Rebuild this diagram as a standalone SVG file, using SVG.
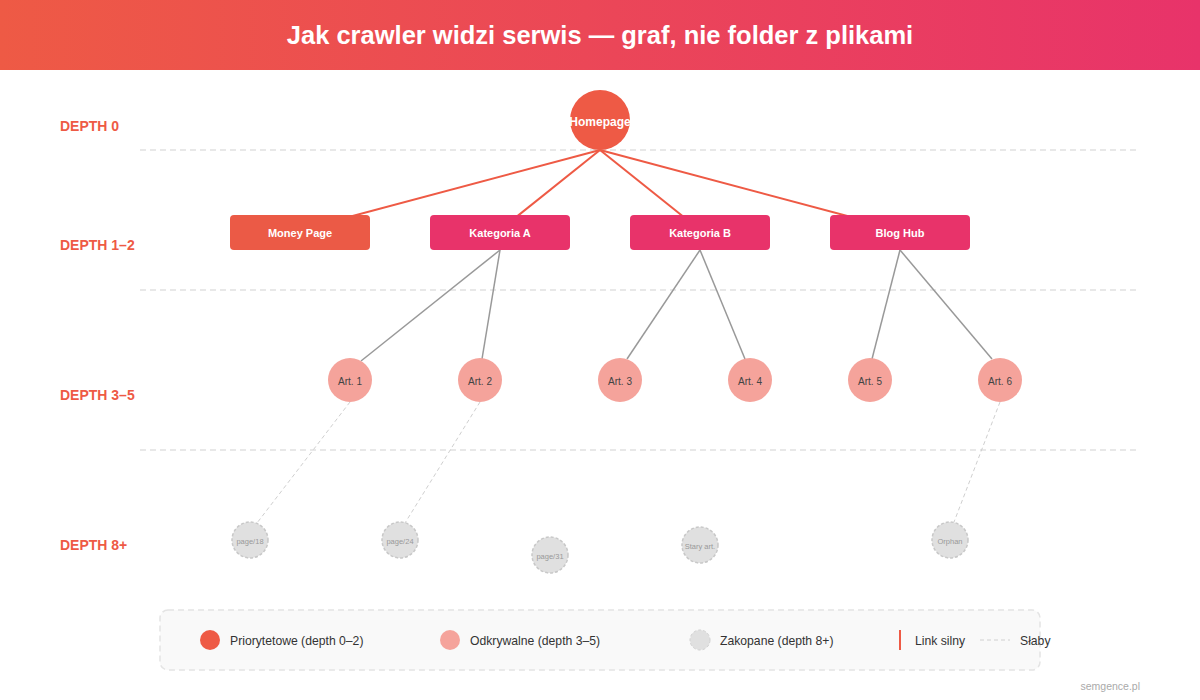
<svg xmlns="http://www.w3.org/2000/svg" width="1200" height="700" viewBox="0 0 1200 700">
  <defs>
    <linearGradient id="hdr" x1="0" y1="0" x2="1" y2="0">
      <stop offset="0" stop-color="#EE5A45"/>
      <stop offset="1" stop-color="#E8336A"/>
    </linearGradient>
    <style>
      .title{font-family:"Liberation Sans",Arial,sans-serif;font-size:25.5px;font-weight:bold;fill:#fff}
      .depth{font-family:"Liberation Sans",Arial,sans-serif;font-size:14px;font-weight:bold;fill:#EE5A45}
      .sep{stroke:#e8e8e8;stroke-width:2;stroke-dasharray:6 4;fill:none}
      .strong{stroke:#EE5A45;stroke-width:2;fill:none}
      .mid{stroke:#999;stroke-width:1.5;fill:none}
      .weak{stroke:#cfcfcf;stroke-width:1;stroke-dasharray:4 3;fill:none}
      .hub{fill:#E8336A}
      .money{fill:#EB5A46}
      .lbl{font-family:"Liberation Sans",Arial,sans-serif;font-weight:bold;fill:#fff;text-anchor:middle}
      .art{fill:#F5A39B}
      .artt{font-family:"Liberation Sans",Arial,sans-serif;font-size:10px;fill:#444;text-anchor:middle}
      .buried{fill:#e0e0e0;stroke:#c8c8c8;stroke-width:1.5;stroke-dasharray:3 2}
      .buriedt{font-family:"Liberation Sans",Arial,sans-serif;font-size:7.5px;fill:#999;text-anchor:middle}
      .leg{font-family:"Liberation Sans",Arial,sans-serif;font-size:12.2px;fill:#333}
    </style>
  </defs>

  <rect x="0" y="0" width="1200" height="70" fill="url(#hdr)"/>
  <text class="title" x="600" y="44" text-anchor="middle">Jak crawler widzi serwis — graf, nie folder z plikami</text>

  <g id="depth-labels">
    <text class="depth" x="60" y="131">DEPTH 0</text>
    <text class="depth" x="60" y="250">DEPTH 1–2</text>
    <text class="depth" x="60" y="400">DEPTH 3–5</text>
    <text class="depth" x="60" y="550">DEPTH 8+</text>
  </g>

  <g id="separators">
    <line class="sep" x1="140" y1="150" x2="1136" y2="150"/>
    <line class="sep" x1="140" y1="290" x2="1136" y2="290"/>
    <line class="sep" x1="140" y1="450" x2="1136" y2="450"/>
  </g>

  <g id="connectors">
    <line class="strong" x1="600" y1="150" x2="300" y2="230"/>
    <line class="strong" x1="600" y1="150" x2="500" y2="230"/>
    <line class="strong" x1="600" y1="150" x2="700" y2="230"/>
    <line class="strong" x1="600" y1="150" x2="900" y2="230"/>
    <line class="mid" x1="500" y1="250" x2="361" y2="361"/>
    <line class="mid" x1="500" y1="250" x2="482" y2="359"/>
    <line class="mid" x1="700" y1="250" x2="627" y2="359"/>
    <line class="mid" x1="700" y1="250" x2="745" y2="359"/>
    <line class="mid" x1="900" y1="250" x2="872" y2="359"/>
    <line class="mid" x1="900" y1="250" x2="992" y2="359"/>
    <line class="weak" x1="350" y1="402" x2="257" y2="523"/>
    <line class="weak" x1="480" y1="402" x2="405" y2="523"/>
    <line class="weak" x1="1000" y1="402" x2="954" y2="522"/>
  </g>

  <g id="homepage">
    <circle cx="600" cy="120" r="30" fill="#EE5A45"/>
    <text class="lbl" x="600" y="125.5" font-size="12">Homepage</text>
  </g>

  <g id="money-page">
    <rect class="money" x="230" y="215" width="140" height="35" rx="4"/>
    <text class="lbl" x="300" y="236.5" font-size="11">Money Page</text>
  </g>
  <g id="kategoria-a">
    <rect class="hub" x="430" y="215" width="140" height="35" rx="4"/>
    <text class="lbl" x="500" y="236.5" font-size="11">Kategoria A</text>
  </g>
  <g id="kategoria-b">
    <rect class="hub" x="630" y="215" width="140" height="35" rx="4"/>
    <text class="lbl" x="700" y="236.5" font-size="11">Kategoria B</text>
  </g>
  <g id="blog-hub">
    <rect class="hub" x="830" y="215" width="140" height="35" rx="4"/>
    <text class="lbl" x="900" y="236.5" font-size="11">Blog Hub</text>
  </g>

  <g id="art-1"><circle class="art" cx="350" cy="380" r="22"/><text class="artt" x="350" y="385">Art. 1</text></g>
  <g id="art-2"><circle class="art" cx="480" cy="380" r="22"/><text class="artt" x="480" y="385">Art. 2</text></g>
  <g id="art-3"><circle class="art" cx="620" cy="380" r="22"/><text class="artt" x="620" y="385">Art. 3</text></g>
  <g id="art-4"><circle class="art" cx="750" cy="380" r="22"/><text class="artt" x="750" y="385">Art. 4</text></g>
  <g id="art-5"><circle class="art" cx="870" cy="380" r="22"/><text class="artt" x="870" y="385">Art. 5</text></g>
  <g id="art-6"><circle class="art" cx="1000" cy="380" r="22"/><text class="artt" x="1000" y="385">Art. 6</text></g>

  <g id="page-18"><circle class="buried" cx="250" cy="540" r="18"/><text class="buriedt" x="250" y="543.5">page/18</text></g>
  <g id="page-24"><circle class="buried" cx="400" cy="540" r="18"/><text class="buriedt" x="400" y="543.5">page/24</text></g>
  <g id="page-31"><circle class="buried" cx="550" cy="555" r="18"/><text class="buriedt" x="550" y="558.5">page/31</text></g>
  <g id="stary-art"><circle class="buried" cx="700" cy="545" r="18"/><text class="buriedt" x="700" y="548.5">Stary art.</text></g>
  <g id="orphan"><circle class="buried" cx="950" cy="540" r="18"/><text class="buriedt" x="950" y="543.5">Orphan</text></g>

  <g id="legend">
    <rect x="160" y="610" width="880" height="60" rx="8" fill="#f9f9f9" stroke="#e4e4e4" stroke-width="1.5" stroke-dasharray="6 4"/>
    <circle cx="210" cy="640" r="10" fill="#EE5A45"/>
    <text class="leg" x="230" y="644.5">Priorytetowe (depth 0–2)</text>
    <circle cx="450" cy="640" r="10" fill="#F5A39B"/>
    <text class="leg" x="470" y="644.5">Odkrywalne (depth 3–5)</text>
    <circle cx="700" cy="640" r="10" fill="#e0e0e0" stroke="#d0d0d0" stroke-width="1" stroke-dasharray="3 2"/>
    <text class="leg" x="720" y="644.5">Zakopane (depth 8+)</text>
    <line x1="900" y1="630" x2="900" y2="650" stroke="#EE5A45" stroke-width="2"/>
    <text class="leg" x="915" y="644.5">Link silny</text>
    <line x1="980" y1="640" x2="1010" y2="640" stroke="#d0d0d0" stroke-width="1" stroke-dasharray="4 3"/>
    <text class="leg" x="1020" y="644.5">Słaby</text>
  </g>

  <text x="1140" y="690" text-anchor="end" font-family="'Liberation Sans',Arial,sans-serif" font-size="10.5" fill="#aaa">semgence.pl</text>
</svg>
